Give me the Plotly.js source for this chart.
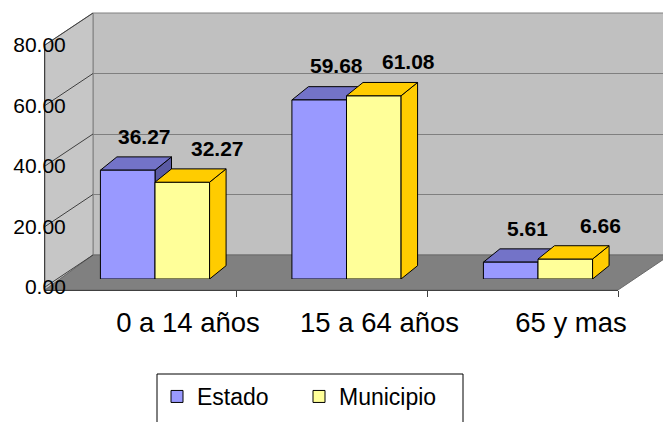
<!DOCTYPE html>
<html>
<head>
<meta charset="utf-8">
<script src="https://cdn.plot.ly/plotly-3.0.1.min.js"></script>
<style>
  html, body { margin: 0; padding: 0; background: #fff; }
  #chart { width: 663px; height: 422px; }
</style>
</head>
<body>
<div id="chart"></div>
<script>
// ---- data ----
const categories = ["0 a 14 años", "15 a 64 años", "65 y mas"];
const estado = [36.27, 59.68, 5.61];
const municipio = [32.27, 61.08, 6.66];
const seriesNames = ["Estado", "Municipio"];
const yTicks = [0, 20, 40, 60, 80];

// ---- geometry helpers (pixel -> paper) ----
const W = 663, H = 422;
const px = x => x / W;
const py = y => 1 - y / H;
const FONT = "Liberation Sans, Arial, sans-serif";
const yMax = yTicks[yTicks.length - 1];

const bargap = 0.43;
const barW = (1 - bargap) / 2;

const layout = {
  width: W, height: H,
  margin: {l: 0, r: 0, t: 0, b: 0},
  paper_bgcolor: "#ffffff",
  plot_bgcolor: "rgba(0,0,0,0)",
  showlegend: true,
  barmode: "group",
  bargap: bargap,
  bargroupgap: 0,
  font: {family: FONT, color: "#000"},
  // back wall (gridlines)
  xaxis: {domain: [px(93), 1], anchor: "y", visible: true, range: [0, 1], showgrid: false,
          zeroline: false, showline: false, showticklabels: false, ticks: "", fixedrange: true},
  yaxis: {domain: [py(255), py(13)], anchor: "x", visible: true, range: [0, yMax], tickvals: yTicks,
          showgrid: true, gridcolor: "#7f7f7f", gridwidth: 1, zeroline: false,
          showticklabels: false, ticks: "", showline: false, fixedrange: true},
  // bars
  xaxis2: {domain: [px(59.25), px(633.75)], anchor: "y2", type: "category",
           range: [-0.5, categories.length - 0.5], showgrid: false, zeroline: false,
           showline: false, ticks: "", tickfont: {size: 27.5, family: FONT, color: "#000"},
           ticklabelshift: 33, ticklabelstandoff: 24, fixedrange: true},
  yaxis2: {domain: [py(279), py(39)], anchor: "x2", range: [0, yMax], visible: false, fixedrange: true},
  // front axis (labels, front floor edge)
  xaxis3: {domain: [px(45), px(618)], anchor: "free", position: py(290), visible: true,
           range: [0, categories.length], tickvals: categories.map((c, i) => i + 1),
           ticks: "outside", ticklen: 6, tickcolor: "#404040", showline: true,
           linecolor: "#404040", linewidth: 1, showticklabels: false, showgrid: false,
           zeroline: false, fixedrange: true},
  yaxis3: {domain: [py(287), py(45)], anchor: "x3", visible: true, range: [0, yMax], tickvals: yTicks,
           tickformat: ".2f", showline: true, linecolor: "#404040", linewidth: 1,
           ticks: "", showgrid: false, zeroline: false,
           tickfont: {size: 21, family: FONT, color: "#000"},
           ticklabelstandoff: -26, fixedrange: true},
  legend: {orientation: "h", x: px(157), xanchor: "left", y: py(375), yanchor: "top",
           borderwidth: 0, bgcolor: "rgba(0,0,0,0)",
           font: {size: 23, family: FONT, color: "#000"}, entrywidth: 97},
  shapes: [],
  annotations: []
};

// ---- walls & floor (decoration, paper coords) ----
layout.shapes.push({type: "rect", xref: "paper", yref: "paper", layer: "below",
  x0: px(93), x1: px(664), y0: py(255), y1: py(13),
  fillcolor: "#c0c0c0", line: {color: "#808080", width: 1}});
layout.shapes.push({type: "path", xref: "paper", yref: "paper", layer: "below",
  path: `M${px(45)},${py(45)} L${px(93)},${py(13)} L${px(93)},${py(255)} L${px(45)},${py(290)} Z`,
  fillcolor: "#c6c6c6", line: {color: "#808080", width: 1}});
layout.shapes.push({type: "path", xref: "paper", yref: "paper", layer: "below",
  path: `M${px(45)},${py(290)} L${px(93)},${py(255)} L${px(664)},${py(255)} L${px(664)},${py(259)} L${px(618)},${py(290)} Z`,
  fillcolor: "#808080", line: {color: "#6a6a6a", width: 1}});
// side-wall gridlines: from front axis tick to back wall gridline
const fd = layout.yaxis3.domain, bd = layout.yaxis.domain;
yTicks.forEach(v => {
  const yf = fd[0] + (fd[1] - fd[0]) * v / yMax;
  const yb = bd[0] + (bd[1] - bd[0]) * v / yMax;
  layout.shapes.push({type: "line", xref: "paper", yref: "paper", layer: "below",
    x0: layout.xaxis3.domain[0], y0: yf, x1: layout.xaxis.domain[0], y1: yb,
    line: {color: "#404040", width: 1}});
});
// legend frame
layout.shapes.push({type: "rect", xref: "paper", yref: "paper", layer: "above",
  x0: px(157), x1: px(463), y0: py(432), y1: py(374),
  fillcolor: "#ffffff", line: {color: "#000", width: 1}});

// ---- 3D faces of bars (through bar axes x2/y2) ----
const pxPerCat = (layout.xaxis2.domain[1] - layout.xaxis2.domain[0]) * W / categories.length;
const pxPerUnit = (layout.yaxis2.domain[1] - layout.yaxis2.domain[0]) * H / yMax;
const ddx = 16.5 / pxPerCat;
const ddy = 13.3 / pxPerUnit;

function faces(x0, x1, v, topColor, sideColor, layer) {
  const top = `M${x0},${v} L${x1},${v} L${x1 + ddx},${v + ddy} L${x0 + ddx},${v + ddy} Z`;
  const side = `M${x1},0 L${x1},${v} L${x1 + ddx},${v + ddy} L${x1 + ddx},${ddy} Z`;
  return [
    {type: "path", xref: "x2", yref: "y2", layer: layer, path: side, fillcolor: sideColor, line: {color: "#000", width: 1}},
    {type: "path", xref: "x2", yref: "y2", layer: layer, path: top, fillcolor: topColor, line: {color: "#000", width: 1}}
  ];
}
const labelFont = {size: 21, family: FONT, color: "#000", weight: "bold"};
categories.forEach((c, i) => {
  layout.shapes.push(...faces(i - barW, i, estado[i], "#7373c8", "#5a5aa3", "between"));
  layout.shapes.push(...faces(i, i + barW, municipio[i], "#ffcc00", "#ffcc00", "above"));
  layout.annotations.push({xref: "x2", yref: "y2", x: i - barW / 2, y: estado[i],
    text: estado[i].toFixed(2), showarrow: false, xshift: 17, yshift: 34, yanchor: "middle",
    font: labelFont});
  layout.annotations.push({xref: "x2", yref: "y2", x: i + barW / 2, y: municipio[i],
    text: municipio[i].toFixed(2), showarrow: false, xshift: 35, yshift: 34, yanchor: "middle",
    font: labelFont});
});

const traces = [
  {type: "bar", name: seriesNames[0], x: categories, y: estado, xaxis: "x2", yaxis: "y2",
   marker: {color: "#9999ff", line: {color: "#000", width: 1}}, hoverinfo: "x+y"},
  {type: "bar", name: seriesNames[1], x: categories, y: municipio, xaxis: "x2", yaxis: "y2",
   marker: {color: "#ffff99", line: {color: "#000", width: 1}}, hoverinfo: "x+y"},
  // empty traces that only register the wall and front-axis subplots
  {type: "scatter", x: [], y: [], xaxis: "x", yaxis: "y", showlegend: false, hoverinfo: "skip"},
  {type: "scatter", x: [], y: [], xaxis: "x3", yaxis: "y3", showlegend: false, hoverinfo: "skip"}
];

Plotly.newPlot("chart", traces, layout, {displayModeBar: false, staticPlot: true});
</script>
</body>
</html>
